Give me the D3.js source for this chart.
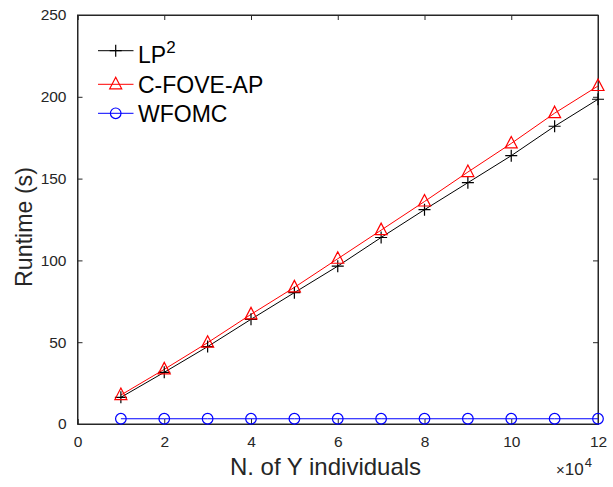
<!DOCTYPE html>
<html><head><meta charset="utf-8">
<script src="https://cdn.jsdelivr.net/npm/d3@7"></script>
<style>body{margin:0;background:#fff}svg{font-family:Helvetica, Arial, "Liberation Sans", sans-serif}</style>
</head><body><svg id="c" width="613" height="487"></svg>
<script>
const xValues = [1,2,3,4,5,6,7,8,9,10,11,12];
const lp2 = [16.3,31.6,47.3,64,80.3,96.5,114,131,147.5,164,182,198.5];
const cfove = [17.7,33.4,49.7,67,83.5,101,118.5,136,154,171.5,190,206.6];
const wfomc = [3.2,3.2,3.2,3.2,3.2,3.2,3.2,3.2,3.2,3.2,3.2,3.2];
const xTicks = [0,2,4,6,8,10,12];
const yTicks = [0,50,100,150,200,250];
const seriesNames = ["LP","C-FOVE-AP","WFOMC"];
const seriesColors = ["#000000","#ff0000","#0000ff"];

const svg = d3.select("#c");
const L=77.5,R=598,T=15,B=424;
const x = d3.scaleLinear().domain([0,12]).range([L,R]);
const y = d3.scaleLinear().domain([0,250]).range([B,T]);
const tc="#262626";
const ff="Helvetica, Arial, 'Liberation Sans', sans-serif";

svg.append("rect").attr("x",L).attr("y",T).attr("width",R-L).attr("height",B-T).attr("fill","none").attr("stroke",tc).attr("stroke-width",1);

const xa = svg.append("g").attr("transform",`translate(0,${B})`).call(d3.axisBottom(x).tickValues(xTicks).tickSize(-5).tickPadding(12).tickFormat(d3.format("d")));
const xt = svg.append("g").attr("transform",`translate(0,${T})`).call(d3.axisTop(x).tickValues(xTicks).tickSize(-5).tickFormat(""));
const ya = svg.append("g").attr("transform",`translate(${L},0)`).call(d3.axisLeft(y).tickValues(yTicks).tickSize(-5).tickPadding(11));
const yr = svg.append("g").attr("transform",`translate(${R},0)`).call(d3.axisRight(y).tickValues(yTicks).tickSize(-5).tickFormat(""));
[xa,xt,ya,yr].forEach(a=>{a.select(".domain").attr("stroke",tc);a.selectAll("line").attr("stroke",tc);a.selectAll("text").attr("fill",tc).attr("font-size",null).attr("font-family",null).style("font-size","15.5px").style("font-family",ff);});

const data = [lp2,cfove,wfomc];
const line = d3.line().x((d,i)=>x(xValues[i])).y(d=>y(d));
data.forEach((s,k)=>{
  svg.append("path").attr("d",line(s)).attr("fill","none").attr("stroke",seriesColors[k]).attr("stroke-width",1);
});
function marker(sel,k,cx,cy){
  if(k===0){
    sel.append("path").attr("d",`M${cx-6},${cy}H${cx+6}M${cx},${cy-6}V${cy+6}`).attr("stroke","#000").attr("stroke-width",1.2).attr("fill","none");
  } else if(k===1){
    sel.append("path").attr("d",`M${cx},${cy-7}L${cx+6},${cy+4.5}L${cx-6},${cy+4.5}Z`).attr("stroke","#ff0000").attr("stroke-width",1.2).attr("fill","none");
  } else {
    sel.append("circle").attr("cx",cx).attr("cy",cy).attr("r",5.3).attr("stroke","#0000ff").attr("stroke-width",1.2).attr("fill","none");
  }
}
data.forEach((s,k)=>{
  const mg=svg.append("g");
  s.forEach((v,i)=>marker(mg,k,x(xValues[i]),y(v)));
});

// legend
const legY=[50.7,84.3,113.3];
const legBase=[63.3,93.3,121.7];
seriesNames.forEach((n,k)=>{
  svg.append("line").attr("x1",98).attr("x2",133.5).attr("y1",legY[k]).attr("y2",legY[k]).attr("stroke",seriesColors[k]).attr("stroke-width",1);
  marker(svg,k,115.7,legY[k]);
  const t=svg.append("text").attr("x",138).attr("y",legBase[k]).attr("fill","#000").style("font-size","23px").text(n);
  if(k===0) t.append("tspan").attr("dy",-10).style("font-size","17px").text("2");
});

svg.append("text").attr("x",325.5).attr("y",475).attr("text-anchor","middle").attr("fill",tc).style("font-size","24px").text("N. of Y individuals");
svg.append("text").attr("transform","translate(32,227) rotate(-90)").attr("text-anchor","middle").attr("fill",tc).style("font-size","23.2px").text("Runtime (s)");
const ex=svg.append("text").attr("x",556).attr("y",475).attr("fill",tc).style("font-size","17px");
ex.append("tspan").style("font-size","15px").text("×");
ex.append("tspan").text("10");
ex.append("tspan").attr("dy",-8).attr("dx",1).style("font-size","13px").text("4");
</script></body></html>
